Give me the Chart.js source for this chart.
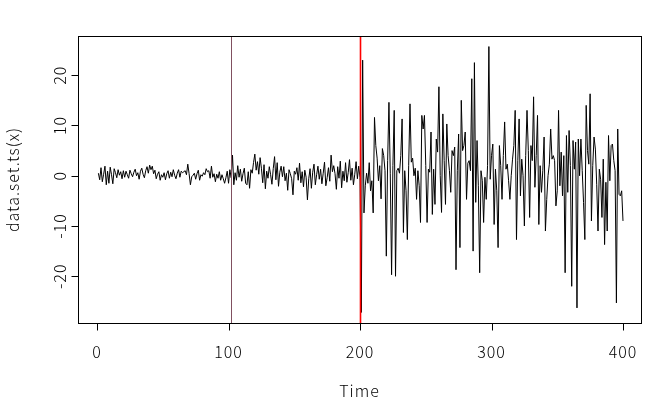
<!DOCTYPE html>
<html lang="en">
<head>
  <meta charset="UTF-8">
  <title>data.set.ts(x)</title>
  <script src="https://cdn.jsdelivr.net/npm/chart.js"></script>
  <style>
    body { margin: 0; background: #ffffff; }
    #wrap { width: 659px; height: 413px; }
  </style>
</head>
<body>
  <div id="wrap"><canvas id="tsChart" width="659" height="413"></canvas></div>

  <script>
    // time series values, t = 1..400
    const seriesA = [ // t 1-100
      0.5, -0.8, 1.6, -1.2, 0.3, 1.9, -1.8, 0.9, -1.5, 1.7,
      0.2, -1.6, 1.4, 0.6, -0.4, 1.2, 0.1, 0.8, -0.6, 1.0,
      -0.3, 0.9, 0.2, -0.5, 1.1, 0.4, -0.2, 0.7, 1.3, 0.0,
      0.6, -0.7, 0.9, 1.5, 0.3, -0.4, 1.0, 1.8, 0.5, 2.1,
      1.2, 1.9, 0.4, 1.1, -0.6, 0.3, 0.8, -0.9, 0.2, -0.3,
      0.6, -0.8, 0.4, 1.0, -0.5, 0.7, -0.2, 1.2, 0.1, -0.6,
      0.5, 1.2, -0.3, 0.9, 0.6, 0.8, 1.0, 0.2, 2.3, 0.4,
      -1.8, -0.2, 0.1, 0.5, -0.7, 0.4, 1.1, -0.9, 0.2, -0.1,
      0.6, 0.2, 1.4, 0.8, 1.0, -0.5, 1.9, -0.3, 0.4, -1.2,
      0.3, -0.5, 0.8, -0.9, 0.2, -0.6, -1.5, -0.4, 0.9, -1.5
    ];
    const seriesB = [ // t 101-200
      1.2, -0.4, 4.1, -1.8, 0.6, -0.9, 2.0, -0.3, 1.3, -1.1,
      0.4, 1.5, -1.5, -1.8, 0.8, -2.5, 1.2, 0.5, 2.6, 4.3,
      1.1, 2.8, 0.3, 3.6, 1.5, -1.4, 2.2, -2.6, 0.9, -0.5,
      1.8, 0.2, -1.7, 1.4, 3.8, -0.8, 2.6, -2.1, 0.7, 1.9,
      -0.2, 1.8, -1.0, 0.5, -2.9, 1.2, 0.4, -0.6, -3.8, 0.9,
      0.3, 1.6, -0.9, 2.5, -1.4, 0.8, -2.2, 1.1, -0.3, -4.8,
      -0.6, 1.4, -2.5, 0.7, 2.3, -1.8, 0.2, 1.9, -0.7, 1.3,
      -1.6, 0.5, 2.7, -2.0, -0.4, 1.6, -1.1, 4.1, 0.8, 2.0,
      0.4, -2.7, 1.8, -0.5, 2.9, -2.4, 0.9, -1.0, 2.6, -1.3,
      0.6, 3.2, -0.9, 1.5, -1.8, 0.3, 2.8, -0.6, 1.9, -0.4
    ];
    const seriesC = [ // t 201-300
      -27.2, 23.0, -7.4, -2.0, 0.5, -1.5, 2.6, -3.0, -1.0, -7.4,
      11.6, 6.0, 3.5, -1.0, 2.0, -4.6, 5.4, 4.0, 1.0, -16.0,
      3.0, 14.6, 0.5, -19.7, 2.0, 13.0, -20.0, 1.0, 1.5, 0.5,
      4.0, 11.3, -11.3, 1.0, -3.0, -12.7, 2.0, 14.3, 2.7, 3.5,
      0.0, 1.5, -4.7, 1.0, -2.0, -9.3, 12.0, 9.3, 12.0, 2.0,
      -9.3, 1.3, 0.7, 8.7, -7.7, 1.3, -5.7, 7.3, 4.7, 17.7,
      0.0, -7.3, 12.3, 3.0, -5.7, 10.3, 4.0, 1.0, -3.3, 5.0,
      4.0, 5.7, -18.7, 1.0, 8.3, -14.3, 15.0, 5.0, 6.0, 8.7,
      -4.7, 2.5, 3.0, 1.0, 19.3, -15.0, 22.5, -5.3, 7.0, -2.0,
      -19.3, 1.0, -1.0, -9.3, -0.3, -4.7, 2.0, 25.7, -0.7, 4.0
    ];
    const seriesD = [ // t 301-400
      6.3, -9.7, 1.3, -3.0, -14.3, 6.0, 2.0, -4.7, 4.0, 10.7,
      1.3, 2.3, -1.0, -4.7, 0.0, 3.3, 6.0, 13.0, -12.7, 3.0,
      11.3, -4.0, 3.3, 0.0, -10.0, 4.0, 13.0, 5.0, -8.3, 6.0,
      3.0, 15.7, -2.3, 4.0, 12.0, -9.7, 2.0, -3.3, 1.0, 7.7,
      -11.0, -4.7, 0.0, 2.3, 9.3, 3.3, 4.0, 3.0, -6.0, -3.0,
      13.0, -2.0, 4.7, -4.0, 4.0, -19.3, 8.0, -3.3, 9.0, 2.0,
      -22.0, 7.0, 1.3, 6.7, -26.3, 7.3, 0.0, 7.3, 1.0, -5.3,
      -12.7, 14.0, 5.0, 2.3, 16.3, -9.0, 2.0, 7.7, 5.3, -1.7,
      -11.0, 1.3, -0.7, -8.3, 3.3, -13.7, -1.3, -11.0, 8.0, -1.0,
      6.0, 6.3, 3.0, 1.0, -25.3, 9.3, -3.7, -4.0, -3.0, -9.0
    ];

    const xTicks = [0, 100, 200, 300, 400];
    const yTicks = [-20, -10, 0, 10, 20];
    const vLines = [102, 200];   // abline(v = ...)

    const values = seriesA.concat(seriesB, seriesC, seriesD);
    const points = values.map((v, i) => ({ x: i + 1, y: v }));

    const FONT = '300 16px "Noto Sans CJK JP", "Noto Sans", sans-serif';

    function label(ctx, text, x, y, rot) {
      ctx.save();
      ctx.translate(x, y);
      if (rot) ctx.rotate(rot);
      ctx.fillText(text, 0, 0);
      ctx.restore();
    }

    // R style frame, axes and titles drawn against chart.js scales
    const rAxes = {
      id: 'rAxes',
      afterDatasetsDraw(chart) {
        const ctx = chart.ctx;
        const a = chart.chartArea;
        const xs = chart.scales.x;
        const ys = chart.scales.y;
        ctx.save();

        // vertical reference lines (on top of the series, like abline)
        const vStyles = [
          { color: 'rgb(128, 80, 96)', width: 1 },
          { color: 'rgb(255, 0, 0)', width: 1.6 }
        ];
        vLines.forEach((v, i) => {
          const px = Math.round(xs.getPixelForValue(v)) + 0.5;
          ctx.beginPath();
          ctx.strokeStyle = vStyles[i].color;
          ctx.lineWidth = vStyles[i].width;
          ctx.moveTo(px, a.top);
          ctx.lineTo(px, a.bottom);
          ctx.stroke();
        });

        ctx.strokeStyle = '#000';
        ctx.lineWidth = 1;
        ctx.strokeRect(Math.round(a.left) + 0.5, Math.round(a.top) + 0.5,
          Math.round(a.right - a.left), Math.round(a.bottom - a.top));

        ctx.fillStyle = '#000';
        ctx.font = FONT;
        ctx.letterSpacing = '1px';

        // x axis
        const by = Math.round(a.bottom) + 0.5;
        ctx.beginPath();
        ctx.moveTo(Math.round(xs.getPixelForValue(xTicks[0])) + 0.5, by);
        ctx.lineTo(Math.round(xs.getPixelForValue(xTicks[xTicks.length - 1])) + 0.5, by);
        xTicks.forEach(t => {
          const px = Math.round(xs.getPixelForValue(t)) + 0.5;
          ctx.moveTo(px, by);
          ctx.lineTo(px, by + 7);
        });
        ctx.stroke();
        ctx.textAlign = 'center';
        ctx.textBaseline = 'middle';
        xTicks.forEach(t => label(ctx, String(t), xs.getPixelForValue(t), a.bottom + 29));

        // y axis
        const lx = Math.round(a.left) + 0.5;
        ctx.beginPath();
        ctx.moveTo(lx, Math.round(ys.getPixelForValue(yTicks[0])) + 0.5);
        ctx.lineTo(lx, Math.round(ys.getPixelForValue(yTicks[yTicks.length - 1])) + 0.5);
        yTicks.forEach(t => {
          const py = Math.round(ys.getPixelForValue(t)) + 0.5;
          ctx.moveTo(lx, py);
          ctx.lineTo(lx - 7, py);
        });
        ctx.stroke();
        yTicks.forEach(t => label(ctx, String(t), a.left - 18, ys.getPixelForValue(t), -Math.PI / 2));

        // titles
        label(ctx, 'Time', (a.left + a.right) / 2, 391);
        label(ctx, 'data.set.ts(x)', 13, (a.top + a.bottom) / 2, -Math.PI / 2);

        ctx.restore();
      }
    };

    new Chart(document.getElementById('tsChart'), {
      type: 'line',
      data: {
        datasets: [{
          label: 'data.set.ts(x)',
          data: points,
          borderColor: '#000000',
          borderWidth: 1,
          pointRadius: 0,
          tension: 0,
          fill: false
        }]
      },
      options: {
        responsive: false,
        animation: false,
        layout: { padding: { left: 78, top: 36, right: 18, bottom: 90 } },
        plugins: { legend: { display: false }, tooltip: { enabled: false } },
        scales: {
          x: { type: 'linear', min: -14.5, max: 413.7, display: false },
          y: { type: 'linear', min: -29.3, max: 27.8, display: false }
        }
      },
      plugins: [rAxes]
    });
  </script>
</body>
</html>
